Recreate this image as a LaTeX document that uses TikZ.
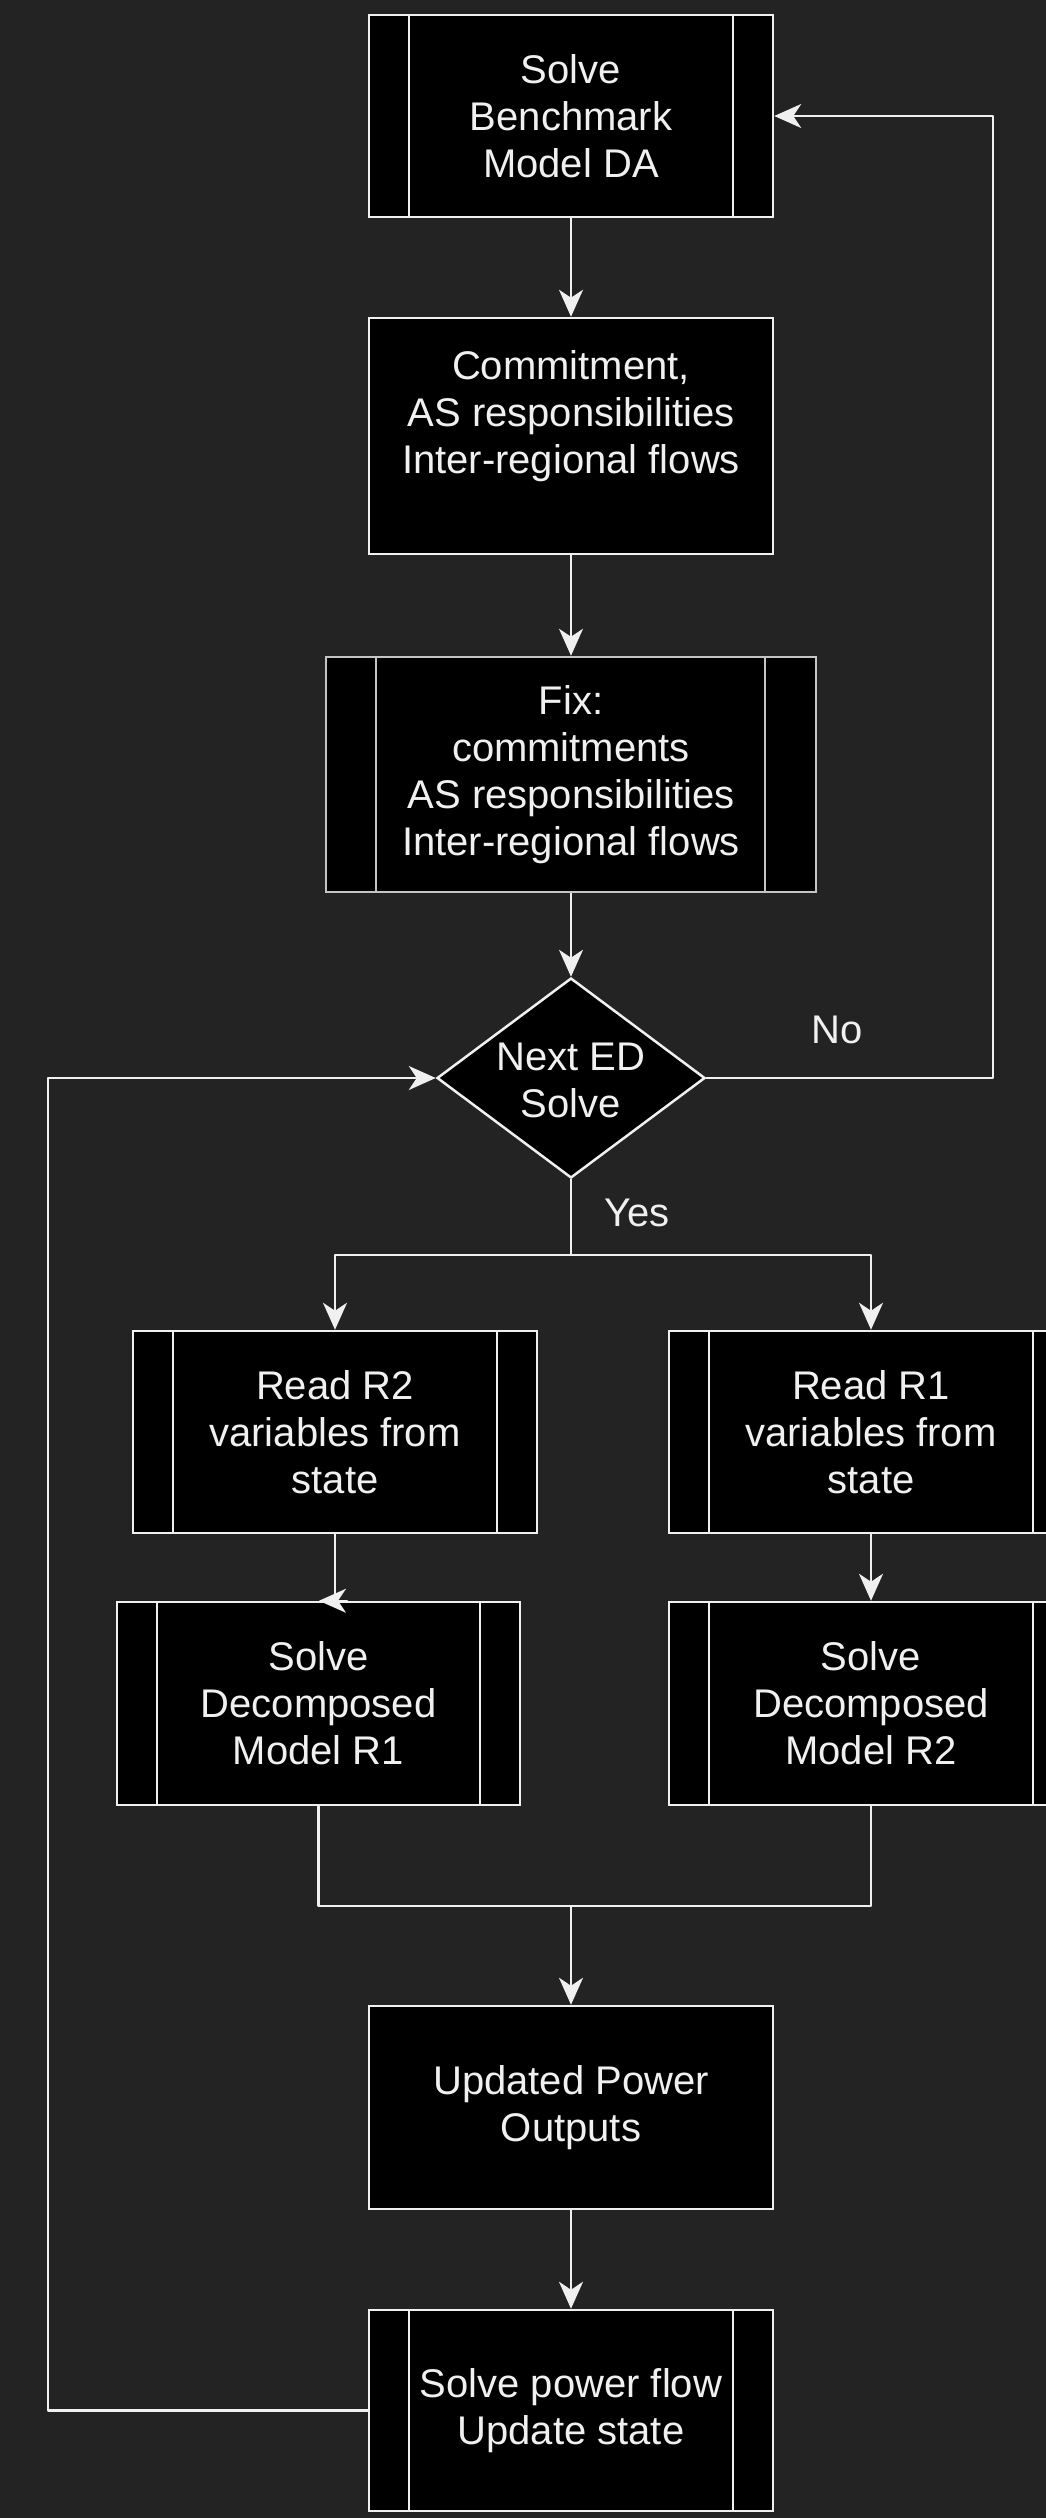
\documentclass[tikz,border=0pt]{standalone}
\usepackage{fontspec}
\setmainfont{Liberation Sans}
\usetikzlibrary{arrows.meta,shapes.geometric,calc}

\definecolor{bgcol}{HTML}{232323}
\definecolor{ink}{HTML}{F0F0F0}
\definecolor{dimink}{HTML}{C4C4C4}

\tikzset{
  lbl/.style={text=ink, font=\fontsize{40}{47}\selectfont, align=center, inner sep=0pt},
  plainbox/.style={lbl, draw=ink, fill=black, line width=2.5pt,
    minimum width=404pt, minimum height=202pt},
  procbox/.style={plainbox,
    path picture={\draw[draw=ink, line width=2.5pt]
      ([xshift=#1]path picture bounding box.north west) -- ([xshift=#1]path picture bounding box.south west)
      ([xshift=-#1]path picture bounding box.north east) -- ([xshift=-#1]path picture bounding box.south east);}},
  procbox/.default=40pt,
  fixbox/.style={lbl, draw=dimink, fill=black, line width=2.5pt,
    minimum width=490pt, minimum height=235pt,
    path picture={\draw[draw=dimink, line width=2.5pt]
      ([xshift=50pt]path picture bounding box.north west) -- ([xshift=50pt]path picture bounding box.south west)
      ([xshift=-51pt]path picture bounding box.north east) -- ([xshift=-51pt]path picture bounding box.south east);}},
  decision/.style={diamond, draw=ink, fill=black, line width=2.5pt, inner sep=0pt,
    minimum width=268pt, minimum height=200pt},
  conn/.style={draw=ink, line width=2.3pt, line join=round},
  arr/.style={conn, -{Stealth[length=27pt,width=24pt,inset=8pt]}},
}

\begin{document}
\begin{tikzpicture}[x=1pt, y=-1pt]
  % canvas
  \fill[bgcol] (0,0) rectangle (1046,2518);
  \useasboundingbox (0,0) rectangle (1046,2518);
  \clip (0,0) rectangle (1046,2518);

  % main column
  \node[procbox] (b1) at (571,116) {Solve\\Benchmark\\Model DA};
  \node[plainbox, minimum height=236pt] (b2) at (571,436)
    {Commitment,\\AS responsibilities\\Inter-regional flows\\\mbox{}};
  \node[fixbox] (b3) at (571,774.5)
    {Fix:\\commitments\\AS responsibilities\\Inter-regional flows};
  \node[decision] (dec) at (571,1078) {};
  \node[lbl] (dect) at (571,1080) {Next ED\\Solve};
  \node[lbl] (no) at (837,1030) {No};
  \node[lbl] (yes) at (637,1213) {Yes};

  % two regional branches
  \node[procbox] (b4) at (335,1432) {Read R2\\variables from\\state};
  \node[procbox] (b5) at (871,1432) {Read R1\\variables from\\state};
  \node[procbox, minimum width=403pt, minimum height=203pt] (b6) at (318.5,1703.5)
    {Solve\\Decomposed\\Model R1};
  \node[procbox, minimum height=203pt] (b7) at (871,1703.5)
    {Solve\\Decomposed\\Model R2};

  % tail of the loop
  \node[plainbox, minimum height=203pt] (b8) at (571,2107.5) {Updated Power\\Outputs};
  \node[procbox, minimum height=201pt] (b9) at (571,2410.5) {Solve power flow\\Update state};

  % routing points
  \coordinate (fbR) at (993,0);
  \coordinate (loopL) at (48,0);
  \coordinate (split) at (571,1255);
  \coordinate (merge) at (571,1906);

  % connectors
  \draw[arr] (b1.south) -- (b2.north);
  \draw[arr] (b2.south) -- (b3.north);
  \draw[arr] (b3.south) -- (dec.north);
  \draw[arr] (dec.east) -- (dec.east -| fbR) -- (fbR |- b1.east) -- (b1.east);
  \draw[conn] (dec.south) -- (split);
  \draw[arr] (split) -| (b4.north);
  \draw[arr] (split) -| (b5.north);
  \draw[arr] (b4.south) -- (b4.south |- b6.north) -- ++(12,0) -- ++(-28,0);
  \draw[arr] (b5.south) -- (b7.north);
  \draw[conn] (b6.south) |- (merge);
  \draw[conn] (b7.south) |- (merge);
  \draw[arr] (merge) -- (b8.north);
  \draw[arr] (b8.south) -- (b9.north);
  \draw[arr] (b9.west) -- (b9.west -| loopL) -- (loopL |- dec.west) -- (dec.west);
\end{tikzpicture}
\end{document}
